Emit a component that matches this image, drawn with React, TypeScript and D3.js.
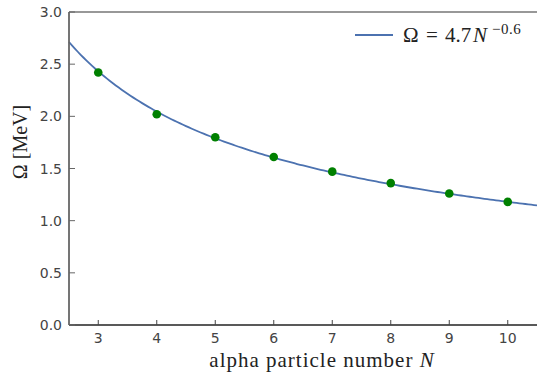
import React from "react";
import * as d3 from "d3";

const nValues = [3, 4, 5, 6, 7, 8, 9, 10];
const omegaValues = [2.42, 2.02, 1.8, 1.61, 1.47, 1.36, 1.26, 1.18];
const xTicks = [3, 4, 5, 6, 7, 8, 9, 10];
const yTicks = [0, 0.5, 1.0, 1.5, 2.0, 2.5, 3.0];
const fitA = 4.7;
const fitB = -0.6;

export default function App() {
  const W = 537, H = 373;
  const x = d3.scaleLinear().domain([2.5, 10.5]).range([69, 537]);
  const y = d3.scaleLinear().domain([0, 3]).range([325, 12]);
  const curveN = d3.range(2.5, 10.5001, 0.05);
  const line = d3.line<number>().x((n) => x(n)).y((n) => y(fitA * Math.pow(n, fitB)));
  const tickFont = "'DejaVu Sans', sans-serif";
  const serif = "'Liberation Serif', 'DejaVu Serif', serif";
  return (
    <svg width={W} height={H} style={{ position: "absolute", left: 0, top: 0, background: "#fff" }}>
      <path d={line(curveN) || ""} fill="none" stroke="#4c72b0" strokeWidth={1.8} />
      {nValues.map((n, i) => (
        <circle key={n} cx={x(n)} cy={y(omegaValues[i])} r={4.3} fill="#008000" />
      ))}
      {/* spines */}
      <line x1={69} x2={537} y1={12} y2={12} stroke="#333" strokeWidth={1.2} />
      <line x1={69} x2={537} y1={325} y2={325} stroke="#222" strokeWidth={1.4} />
      <line x1={69} x2={69} y1={12} y2={325} stroke="#666" strokeWidth={1.8} />
      {xTicks.map((t) => (
        <g key={t}>
          <line x1={x(t)} x2={x(t)} y1={325} y2={320} stroke="#444" strokeWidth={1} />
          <text x={x(t)} y={343} textAnchor="middle" fontFamily={tickFont} fontSize={14} fill="#444">{t}</text>
        </g>
      ))}
      {yTicks.map((t) => (
        <g key={t}>
          <line x1={69} x2={75} y1={y(t)} y2={y(t)} stroke="#666" strokeWidth={1} />
          <text x={62} y={y(t) + 5} textAnchor="end" fontFamily={tickFont} fontSize={14} fill="#444">{t.toFixed(1)}</text>
        </g>
      ))}
      <text x={322} y={367} textAnchor="middle" fontFamily={serif} fontSize={21} letterSpacing={1} fill="#222">
        alpha particle number <tspan fontStyle="italic">N</tspan>
      </text>
      <text transform={`translate(27,142) rotate(-90)`} textAnchor="middle" fontFamily={serif} fontSize={20} fill="#222">
        Ω [MeV]
      </text>
      <line x1={355} x2={393} y1={35} y2={35} stroke="#4c72b0" strokeWidth={1.8} />
      <g fontFamily={serif} fill="#222">
        <text x={403} y={41.5} fontSize={21}>Ω</text>
        <text x={426} y={41.5} fontSize={21}>=</text>
        <text x={445} y={41.5} fontSize={21}>4.7</text>
        <text x={473} y={41.5} fontSize={21} fontStyle="italic">N</text>
        <text x={492} y={33.5} fontSize={15} letterSpacing={0.5}>−0.6</text>
      </g>
    </svg>
  );
}
